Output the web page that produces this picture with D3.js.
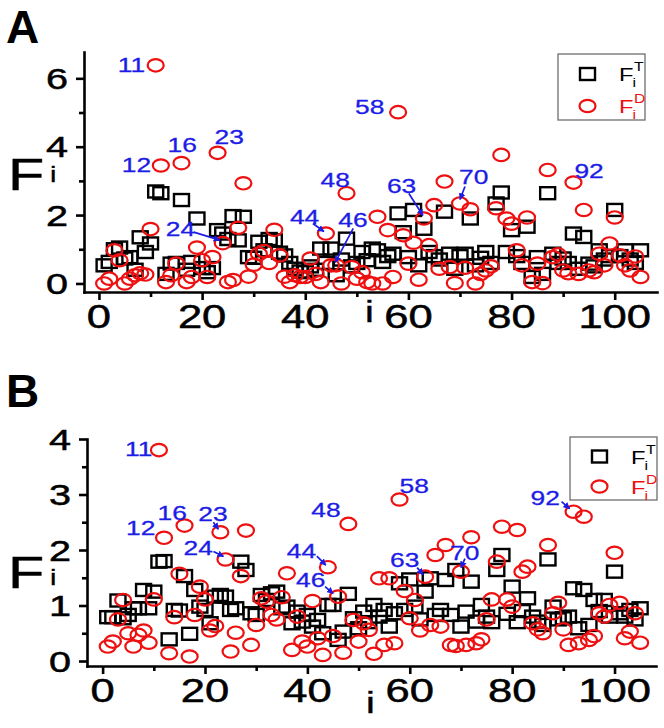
<!DOCTYPE html>
<html><head><meta charset="utf-8">
<script src="https://cdn.jsdelivr.net/npm/d3@7"></script>
<style>body{margin:0;background:#fff}svg{display:block}</style></head>
<body><svg id="c" width="664" height="728"></svg>
<script>
// ---------------- DATA ----------------
const idx = d3.range(1, 106);
const FT_A = [0.53,0.63,1.00,1.05,0.73,0.77,0.40,1.35,0.92,1.17,
 2.69,2.64,0.28,0.58,0.60,2.44,0.40,0.63,1.90,0.45,
 0.33,0.45,1.56,1.46,1.30,1.97,1.26,1.95,0.77,0.75,
 1.22,0.97,1.30,1.26,0.90,0.82,0.60,0.43,0.35,0.33,
 0.50,0.40,1.02,0.60,1.02,0.24,0.70,1.31,0.50,0.60,
 0.92,0.68,1.02,0.97,0.63,0.80,0.87,2.05,1.50,0.77,
 2.15,0.53,1.60,0.92,0.80,0.70,2.10,0.87,0.43,0.80,
 0.87,1.90,0.53,0.75,0.92,0.60,2.34,2.66,0.92,1.56,
 0.80,0.60,1.66,0.19,0.77,0.28,2.64,0.87,0.60,0.73,
 0.60,1.46,0.43,1.36,0.58,0.50,0.97,0.70,0.80,2.15,
 0.80,0.97,0.70,0.60,0.97];
const FD_A = [0.00,0.14,0.97,0.68,0.00,0.14,0.24,0.30,0.26,1.59,
 6.38,3.45,0.04,0.24,0.58,3.52,0.04,0.19,1.05,0.68,
 0.19,0.77,3.82,1.18,0.04,0.10,1.63,2.93,0.20,0.55,
 0.87,0.95,0.60,1.57,0.82,0.20,0.04,0.24,0.19,0.19,
 0.73,0.28,0.04,1.46,0.53,0.53,0.00,2.64,0.48,0.14,
 0.33,0.04,0.00,1.95,0.00,1.56,0.19,5.01,1.41,0.58,
 1.19,0.11,1.90,1.12,2.29,0.43,2.98,0.48,0.01,2.34,
 0.46,2.17,0.00,0.28,0.38,0.50,2.20,3.76,1.90,1.75,
 0.97,0.53,1.93,0.04,0.58,0.01,3.32,0.77,0.85,0.38,
 0.30,2.95,0.28,2.15,0.38,0.33,0.87,0.53,1.17,1.93,
 0.82,0.53,0.38,0.79,0.19];
const FT_B = [0.79,0.79,1.09,0.77,0.83,0.95,0.95,1.28,0.95,1.25,
 1.79,1.80,0.39,0.92,0.91,1.53,0.49,1.28,0.98,0.92,
 0.68,1.16,1.19,1.16,0.92,0.95,1.79,1.64,0.86,0.83,
 1.19,1.10,1.22,1.25,0.95,0.98,0.68,0.89,0.71,0.83,
 0.62,0.74,0.50,1.01,1.01,0.38,0.53,1.21,0.77,0.59,
 0.89,0.70,1.01,0.80,0.92,0.62,0.86,1.40,0.92,1.47,
 0.98,0.75,1.25,1.49,0.83,0.92,1.46,0.83,1.64,0.62,
 0.89,1.43,0.71,1.01,0.80,0.70,1.64,1.91,0.85,1.34,
 0.70,0.90,1.13,0.80,0.71,0.65,1.83,0.98,0.75,0.77,
 0.80,1.31,0.59,1.28,0.65,1.10,0.90,1.10,0.80,1.61,
 0.86,0.80,0.92,0.75,0.95];
const FD_B = [0.26,0.35,0.75,1.10,0.50,0.26,0.47,0.55,0.33,1.11,
 3.80,2.22,0.14,0.79,1.57,2.44,0.08,0.83,1.34,1.11,
 0.55,0.63,2.32,1.83,0.17,0.51,1.53,2.35,0.29,0.65,
 1.13,1.07,0.83,0.75,1.15,1.58,0.20,0.80,0.35,0.26,
 1.08,0.41,0.11,1.69,0.45,1.16,0.15,2.47,0.74,0.35,
 0.68,0.56,0.13,1.49,0.29,1.49,0.32,2.91,1.26,0.77,
 1.10,0.55,1.52,0.65,1.91,0.62,2.09,0.29,0.27,1.61,
 0.29,2.23,0.32,0.39,0.75,1.11,1.79,2.42,1.11,0.98,
 2.36,1.61,1.70,0.68,0.57,0.50,2.09,0.86,1.05,0.57,
 0.29,2.69,0.32,2.60,0.38,0.45,0.86,0.80,1.01,1.95,
 1.05,0.41,0.53,0.86,0.33];
const xTicks = [0, 20, 40, 60, 80, 100];
const xMinor = [10, 30, 50, 70, 90];
const yTicksA = [0, 2, 4, 6];
const yMinorA = [1, 3, 5];
const yTicksB = [0, 1, 2, 3, 4];
const yMinorB = [0.5, 1.5, 2.5, 3.5];
const annotA = [11, 12, 16, 23, 24, 44, 46, 48, 58, 63, 70, 92];
const annotB = [11, 12, 16, 23, 24, 44, 46, 48, 58, 63, 70, 92];

// ---------------- LAYOUT ----------------
const SX = 1.32; // horizontal text stretch of the reference
const RED = "#ee1010", BLUE = "#1c1ce6";
const FONT = "'Liberation Sans', Arial, sans-serif";
const layA = {
  lab: {11:[-38,0],12:[-39,-1],16:[-14,-18],23:[-3,-16],24:[-57,-14],44:[-36,-17],46:[2,-45],48:[-26,-13],58:[-43,-5],63:[-37,-33],70:[-1,-27],92:[1,-12]},
  arr: {24:[-29,-11,-3,-3],44:[-13,-10,-2,-2],46:[17,-37,-1,-3],63:[-15,-25,-1,-3],70:[5,-17,0,-4]}
};
const layB = {
  lab: {11:[-34,-1],12:[-38,-10],16:[-27,-13],23:[-22,-18],24:[-42,-12],44:[-41,-16],46:[-42,-17],48:[-37,-14],58:[0,-14],63:[-35,-17],70:[-11,-19],92:[-43,-14]},
  arr: {23:[-7,-10,-2,-3],24:[-12,-8,-2,-3],44:[-11,-11,-2,-2],46:[-13,-10,-5,-3],63:[-8,-9,-2,-2],70:[4,-13,0,-4],92:[-12,-10,-4,-3]}
};

const svg = d3.select("#c");
svg.append("rect").attr("width",664).attr("height",728).attr("fill","#fff");
const defs = svg.append("defs");
defs.append("marker").attr("id","ah").attr("viewBox","0 0 10 10").attr("refX",9).attr("refY",5)
  .attr("markerWidth",4).attr("markerHeight",4).attr("orient","auto")
  .append("path").attr("d","M0,0L10,5L0,10z").attr("fill",BLUE);

function stext(g, str, x, y, fs, color, anchor, weight, sx, sw) {
  const t = g.append("text").attr("transform", `translate(${x},${y}) scale(${sx===undefined?SX:sx},1)`)
    .attr("text-anchor", anchor || "start").attr("font-family", FONT)
    .attr("font-size", fs).attr("font-weight", weight || "normal").attr("fill", color || "#000").text(str);
  if (sw) t.attr("stroke", color || "#000").attr("stroke-width", sw);
  return t;
}

function panel(o) {
  const g = svg.append("g");
  const x = d3.scaleLinear().domain(o.xd).range([o.left, o.right]);
  const y = d3.scaleLinear().domain(o.yd).range([o.bottom, o.top]);
  const ax = g.append("g").attr("transform", `translate(0,${o.bottom})`)
    .call(d3.axisBottom(x).tickValues(xTicks).tickSize(8).tickSizeOuter(0).tickFormat(""));
  const axm = g.append("g").attr("transform", `translate(0,${o.bottom})`)
    .call(d3.axisBottom(x).tickValues(xMinor).tickSize(5).tickSizeOuter(0).tickFormat(""));
  const ay = g.append("g").attr("transform", `translate(${o.left},0)`)
    .call(d3.axisLeft(y).tickValues(o.yt).tickSize(8).tickSizeOuter(0).tickFormat(""));
  const aym = g.append("g").attr("transform", `translate(${o.left},0)`)
    .call(d3.axisLeft(y).tickValues(o.ym).tickSize(5).tickSizeOuter(0).tickFormat(""));
  [ax, axm, ay, aym].forEach(a => { a.selectAll("path,line").attr("stroke","#000").attr("stroke-width",2.6); a.select(".domain").attr("stroke-linecap","square"); });
  axm.select(".domain").remove(); aym.select(".domain").remove();
  xTicks.forEach(t => stext(g, t, x(t), o.bottom + o.xlabDy, o.xfs, "#000", "middle", "normal", SX, 0.5));
  o.yt.forEach(t => stext(g, t, o.left - o.ylabDx, y(t) + 0.358 * o.yfs, o.yfs, "#000", "end", "normal", SX, 0.5));
  stext(g, "i", (o.left + o.right) / 2 + o.ixDx, o.bottom + o.iDy, 30, "#000", "middle", "normal", SX, 0.4);
  stext(g, "F", o.Fx, o.Fy, 45, "#000", "start", "normal", SX, 0.4);
  stext(g, "i", o.Fx + 42, o.Fy - o.iUp, 22, "#000", "start", "normal", SX, 0.3);
  stext(g, o.letter, 6, o.letterY, 46, "#000", "start", "bold", 1.0);
  const sqW = 15, sqH = 12;
  g.append("g").selectAll("rect").data(idx).join("rect")
    .attr("x", i => x(i) - sqW / 2).attr("y", (i, k) => y(o.FT[k]) - sqH / 2)
    .attr("width", sqW).attr("height", sqH).attr("fill", "none").attr("stroke", "#000").attr("stroke-width", 2.4);
  g.append("g").selectAll("ellipse").data(idx).join("ellipse")
    .attr("cx", i => x(i)).attr("cy", (i, k) => y(o.FD[k])).attr("rx", 8).attr("ry", 6.2)
    .attr("fill", "none").attr("stroke", RED).attr("stroke-width", 2.2);
  o.ann.forEach(i => {
    const px = x(i), py = y(o.FD[i - 1]);
    const l = o.lay.lab[i];
    stext(g, i, px + l[0], py + l[1] + 0.358 * 20, 20, BLUE, "start", "normal", SX, 0.3);
    const a = o.lay.arr[i];
    if (a) g.append("line").attr("x1", px + a[0]).attr("y1", py + a[1]).attr("x2", px + a[2]).attr("y2", py + a[3])
      .attr("stroke", BLUE).attr("stroke-width", 1.7).attr("marker-end", "url(#ah)");
  });
  const L = o.leg;
  g.append("rect").attr("x", L.x).attr("y", L.y).attr("width", L.w).attr("height", L.h)
    .attr("fill", "#fff").attr("stroke", "#6e6e6e").attr("stroke-width", 1.3);
  const r1 = L.y + L.r1, r2 = L.y + L.r2;
  g.append("rect").attr("x", L.x + 29.5 - sqW / 2).attr("y", r1 - sqH / 2).attr("width", sqW).attr("height", sqH)
    .attr("fill", "none").attr("stroke", "#000").attr("stroke-width", 2.4);
  g.append("ellipse").attr("cx", L.x + 29.5).attr("cy", r2).attr("rx", 8).attr("ry", 6.2)
    .attr("fill", "none").attr("stroke", RED).attr("stroke-width", 2.2);
  [[r1, "T", "#000"], [r2, "D", RED]].forEach(([ry, sup, c]) => {
    stext(g, "F", L.x + 61, ry + 7, 18, c, "start");
    stext(g, sup, L.x + 76, ry - 3, 12, c, "start");
    stext(g, "i", L.x + 74.5, ry + 13, 12, c, "start");
  });
}

panel({ letter: "A", letterY: 43, left: 84, right: 657, top: 52, bottom: 292,
  xd: [-2.9, 108.2], yd: [-0.25, 6.77], yt: yTicksA, ym: yMinorA, FT: FT_A, FD: FD_A,
  xfs: 33, xlabDy: 36, yfs: 30, ylabDx: 16, ixDx: -1, iDy: 30, Fx: 8, Fy: 190, iUp: 8,
  ann: annotA, lay: layA, leg: { x: 558, y: 54, w: 87, h: 66, r1: 20, r2: 52 } });
panel({ letter: "B", letterY: 407, left: 87, right: 656, top: 439, bottom: 666,
  xd: [-3.05, 108.1], yd: [-0.09, 4.0], yt: yTicksB, ym: yMinorB, FT: FT_B, FD: FD_B,
  xfs: 33, xlabDy: 36, yfs: 30, ylabDx: 16, ixDx: -1, iDy: 47, Fx: 8, Fy: 588, iUp: 3,
  ann: annotB, lay: layB, leg: { x: 570, y: 437, w: 87, h: 63, r1: 19.5, r2: 49.5 } });
</script>
</body></html>
